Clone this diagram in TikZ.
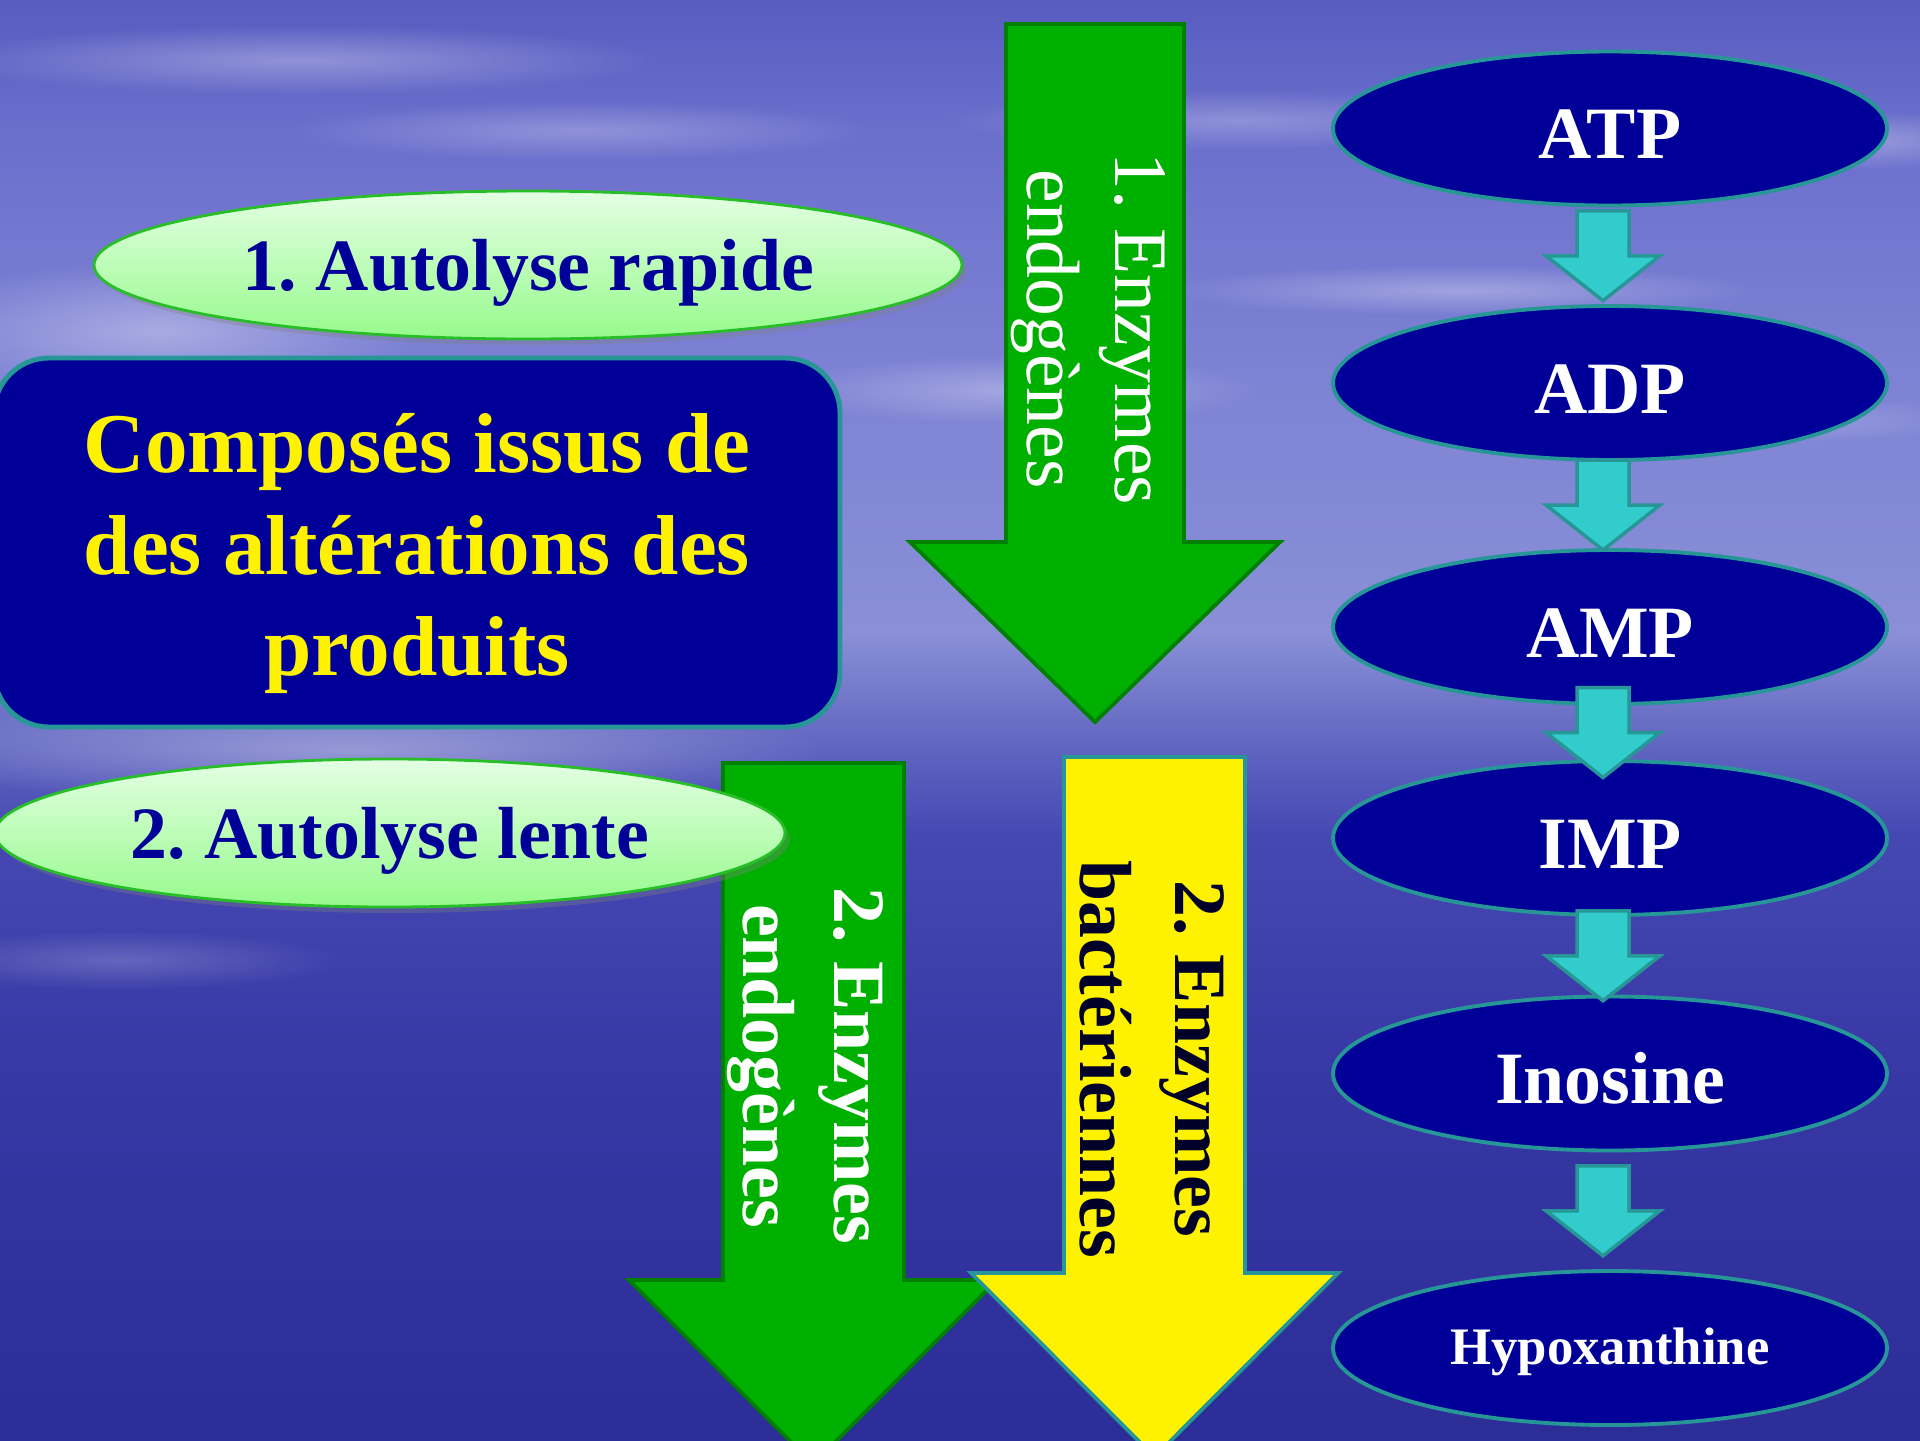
\documentclass[tikz,border=0pt]{standalone}
\usepackage{fontspec}
\setmainfont{Liberation Serif}
\usetikzlibrary{calc, shapes.geometric, shadows, fadings}
\frenchspacing

\definecolor{navyfill}{RGB}{0,0,153}
\definecolor{tealedge}{RGB}{38,150,150}
\definecolor{stepfill}{RGB}{51,204,204}
\definecolor{leafgreen}{RGB}{0,176,0}
\definecolor{leafedge}{RGB}{0,128,0}
\definecolor{paletop}{RGB}{228,255,228}
\definecolor{palebottom}{RGB}{150,250,140}
\definecolor{paleedge}{RGB}{40,190,40}
\definecolor{inkdark}{RGB}{0,0,40}
\definecolor{skyA}{RGB}{88,92,192}
\definecolor{skyB}{RGB}{108,112,205}
\definecolor{skyC}{RGB}{125,130,212}
\definecolor{skyD}{RGB}{138,143,215}
\definecolor{skyE}{RGB}{95,100,192}
\definecolor{seaA}{RGB}{70,72,178}
\definecolor{seaB}{RGB}{55,55,165}
\definecolor{seaC}{RGB}{45,45,152}

\pgfdeclareverticalshading{seasky}{100bp}{color(0bp)=(seaC); color(25bp)=(seaC);
  color(37.5bp)=(seaB); color(46bp)=(seaA); color(49bp)=(skyE); color(53bp)=(skyD);
  color(62bp)=(skyC); color(70bp)=(skyB); color(75bp)=(skyA); color(100bp)=(skyA)}
\tikzfading[name=softcloud, inner color=transparent!0, outer color=transparent!100]

\begin{document}
\begin{tikzpicture}[x=1cm, y=-1cm,
    chem/.style={ellipse, draw=tealedge, line width=1.1pt, fill=navyfill, text=white,
        font=\bfseries\fontsize{21}{25}\selectfont, minimum width=5.54cm, minimum height=1.54cm,
        inner sep=0pt, text height=17.3pt, text depth=0pt},
    phase/.style={ellipse, draw=paleedge, line width=0.8pt, top color=paletop, bottom color=palebottom,
        text=navyfill, font=\bfseries\fontsize{21}{25}\selectfont, minimum height=1.48cm, inner sep=0pt,
        text depth=0pt, drop shadow={opacity=0.35, shadow xshift=0.05cm, shadow yshift=-0.06cm}},
    stepdown/.style={draw=tealedge, line width=1pt, fill=stepfill, line join=miter},
    bigarrow/.style={line width=1.1pt, line join=miter},
    arrowtext/.style={rotate=-90, align=center, inner sep=0pt}]

    % Frame and background
    \path[use as bounding box, clip] (0,0) rectangle (19.2,14.4);
    \shade[shading=seasky] (0,0) rectangle (19.2,14.4);
    \foreach \cx/\cy/\rx/\ry/\op in {3.0/0.6/3.6/0.35/0.30, 5.8/1.3/3.0/0.30/0.25, 1.6/3.3/2.6/0.7/0.35,
        3.5/7.5/4.8/0.55/0.35, 1.2/9.6/2.2/0.3/0.20, 12.4/1.2/3.0/0.3/0.25, 14.6/2.9/3.0/0.25/0.30,
        18.6/1.4/1.6/0.3/0.30, 10.2/3.9/2.4/0.35/0.30, 17.8/4.2/2.0/0.25/0.20}
        \fill[white, fill opacity=\op, path fading=softcloud] (\cx,\cy) ellipse [x radius=\rx, y radius=\ry];

    % Left column
    \node[draw=tealedge, line width=1.4pt, fill=navyfill, rounded corners=0.55cm,
        minimum width=8.46cm, minimum height=3.69cm] (compo) at (4.17,5.425) {};
    \node[align=center, text=yellow, font=\bfseries\fontsize{24.2}{28.8}\selectfont]
        (compotext) at ($(compo.center)+(0,0.11)$) {Composés issus de\\des altérations des\\produits};
    \node[phase, minimum width=8.68cm] (rapid) at (5.28,2.65) {1. Autolyse rapide};

    % Enzyme arrows
    \draw[bigarrow, fill=leafgreen, draw=leafedge] (10.06,0.24) -- (11.84,0.24) -- (11.84,5.42)
        -- (12.80,5.42) -- (10.95,7.22) -- (9.10,5.42) -- (10.06,5.42) -- cycle;
    \node[arrowtext, text=white, font=\fontsize{21.5}{25}\selectfont] (enzfast) at (10.88,3.29)
        {1. Enzymes\\endogènes};

    \draw[bigarrow, fill=leafgreen, draw=leafedge] (7.23,7.63) -- (9.04,7.63) -- (9.04,12.80)
        -- (9.97,12.80) -- (8.13,14.64) -- (6.29,12.80) -- (7.23,12.80) -- cycle;
    \node[arrowtext, text=white, font=\bfseries\fontsize{21}{26}\selectfont] (enzslow) at (8.05,10.66)
        {2. Enzymes\\endogènes};
    \node[phase, minimum width=7.9cm] (slow) at (3.90,8.33) {2. Autolyse lente};

    \draw[bigarrow, fill=yellow, draw=tealedge] (10.64,7.57) -- (12.45,7.57) -- (12.45,12.73)
        -- (13.38,12.73) -- (11.545,14.57) -- (9.71,12.73) -- (10.64,12.73) -- cycle;
    \node[arrowtext, text=inkdark, font=\bfseries\fontsize{21}{27}\selectfont] (enzbact) at (11.525,10.59)
        {2. Enzymes\\bactériennes};

    % Nucleotide breakdown chain
    \node[chem] (atp) at (16.10,1.285) {ATP};
    \node[chem] (adp) at (16.10,3.83) {ADP};
    \node[chem] (amp) at (16.10,6.27) {AMP};
    \node[chem] (imp) at (16.10,8.38) {IMP};
    \node[chem] (ino) at (16.10,10.735) {Inosine};
    \node[chem, font=\bfseries\fontsize{15}{18}\selectfont, text height=9.4pt] (hyp) at (16.10,13.48) {Hypoxanthine};

    \foreach \a/\b in {atp/adp, adp/amp, amp/imp, imp/ino, ino/hyp} {
        \coordinate (mid) at ($(\a.south)!0.5!(\b.north)$);
        \draw[stepdown, shift={(mid)}] (-0.33,-0.45) -- (0.19,-0.45) -- (0.19,0) -- (0.50,0)
            -- (-0.07,0.45) -- (-0.64,0) -- (-0.33,0) -- cycle;
    }
\end{tikzpicture}
\end{document}
